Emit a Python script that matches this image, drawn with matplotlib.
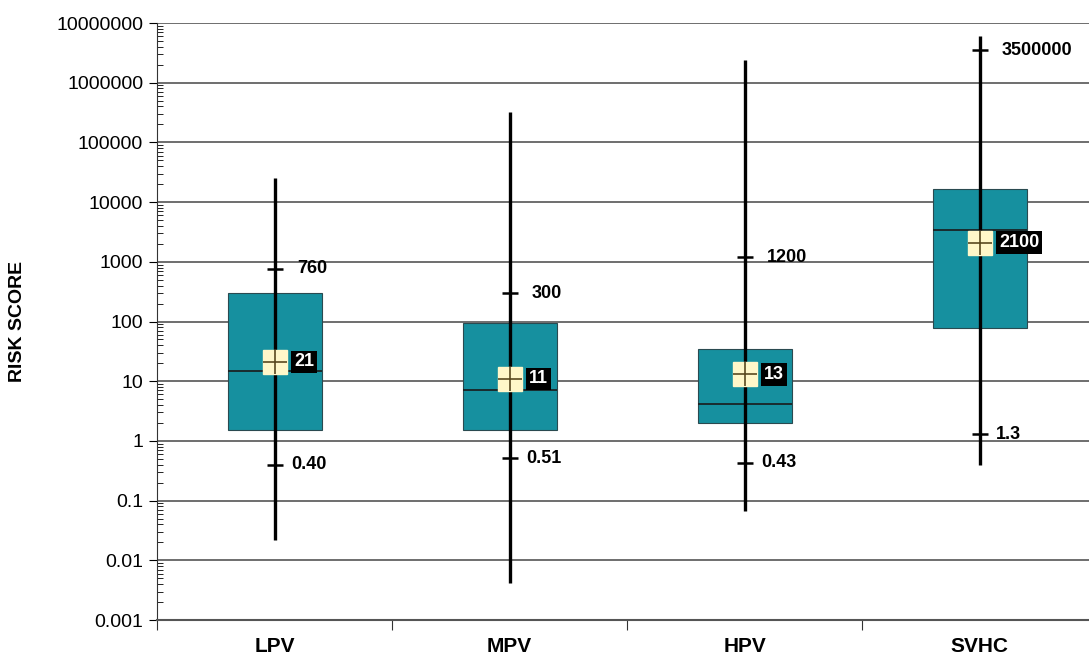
import numpy as np
import matplotlib
matplotlib.use('Agg')
import matplotlib.pyplot as plt

plt.rcParams['font.family'] = ['Liberation Sans', 'DejaVu Sans']

groups = ['LPV', 'MPV', 'HPV', 'SVHC']
whisk_lo = [0.022, 0.0042, 0.068, 0.4]
whisk_hi = [25000, 320000, 2.4e6, 6.0e6]
box_lo = [1.5, 1.5, 2.0, 78]
box_hi = [300, 95, 35, 16500]
medians = [15, 7, 4.2, 3400]
means = [21, 11, 13, 2100]
p_hi = [760, 300, 1200, 3500000]
p_lo = [0.40, 0.51, 0.43, 1.3]
p_hi_txt = ['760', '300', '1200', '3500000']
p_lo_txt = ['0.40', '0.51', '0.43', '1.3']
mean_txt = ['21', '11', '13', '2100']

fig = plt.figure(figsize=(10.89, 6.61), dpi=100)
ax = fig.add_axes([0.1442, 0.062, 0.8632, 0.9032])
x = np.arange(len(groups))

ax.set_yscale('log')
ax.set_ylim(0.001, 1e7)
ax.set_xlim(-0.5, 3.5)

for v in 10.0 ** np.arange(-2, 8):
    ax.axhline(v, color='#555555', lw=1.2, zorder=0)

lo = np.array(box_lo)
hi = np.array(box_hi)
ax.bar(x, hi - lo, bottom=lo, width=0.4, color='#16909f', edgecolor='#2a4a50', lw=0.8, zorder=2)
ax.hlines(medians, x - 0.2, x + 0.2, color='#1a1a1a', lw=1.2, zorder=3)
ax.vlines(x, whisk_lo, whisk_hi, color='black', lw=2.4, zorder=4)
ax.plot(x, p_hi, ls='none', marker='_', ms=11, mew=1.8, color='black', zorder=5)
ax.plot(x, p_lo, ls='none', marker='_', ms=11, mew=1.8, color='black', zorder=5)
ax.plot(x, means, ls='none', marker='s', ms=17, mfc='#fff7c9', mec='#fff7c9', zorder=6)
ax.plot(x, means, ls='none', marker='+', ms=17, mew=1.2, color='#5a4a20', zorder=7)

for i in range(len(groups)):
    ax.annotate(p_hi_txt[i], (x[i], p_hi[i]), xytext=(16, 0), textcoords='offset points',
                va='center', ha='left', fontsize=13, fontweight='bold', zorder=8)
    ax.annotate(p_lo_txt[i], (x[i], p_lo[i]), xytext=(12, 0), textcoords='offset points',
                va='center', ha='left', fontsize=13, fontweight='bold', zorder=8)
    ax.annotate(mean_txt[i], (x[i], means[i]), xytext=(14, 0), textcoords='offset points',
                va='center', ha='left', fontsize=13, fontweight='bold', color='white', zorder=8,
                bbox=dict(boxstyle='square,pad=0.15', fc='black', ec='none'))

ax.spines['top'].set_visible(False)
ax.spines['right'].set_visible(False)
ax.spines['left'].set_color('#333333')
ax.spines['bottom'].set_color('#555555')
ax.spines['bottom'].set_linewidth(1.5)

ax.set_xticks([-0.5, 0.5, 1.5, 2.5])
ax.set_xticklabels([])
ax.tick_params(axis='x', which='major', length=7, direction='out', color='#333333')
ax.set_xticks(x, minor=True)
ax.set_xticklabels(groups, minor=True, fontsize=15, fontweight='bold')
ax.tick_params(axis='x', which='minor', length=0, pad=12)

ax.set_yticks(10.0 ** np.arange(-3, 8))
ax.set_yticklabels(['0.001', '0.01', '0.1', '1', '10', '100', '1000', '10000',
                    '100000', '1000000', '10000000'], fontsize=14)
ax.yaxis.set_minor_locator(matplotlib.ticker.LogLocator(base=10, subs=np.arange(2, 10), numticks=20))
ax.tick_params(axis='y', which='major', length=6, direction='out', pad=4)
ax.tick_params(axis='y', which='minor', length=4, direction='in')
ax.set_ylabel('RISK SCORE', fontsize=14, fontweight='bold', labelpad=22)

fig.savefig('out.png', dpi=100)
